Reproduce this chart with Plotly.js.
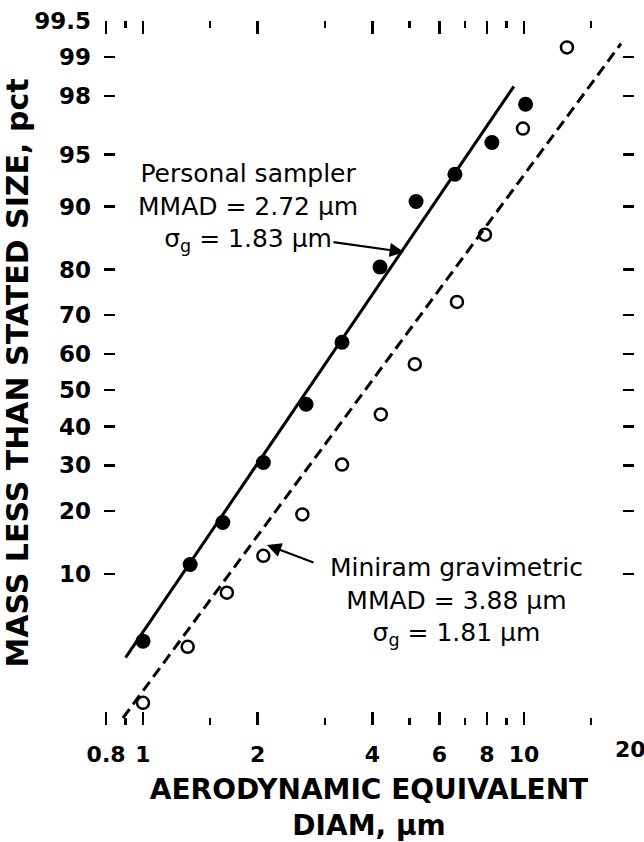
<!DOCTYPE html>
<html><head><meta charset="utf-8">
<script src="https://cdn.plot.ly/plotly-3.0.1.min.js"></script>
<style>html,body{margin:0;padding:0;background:#fff}#chart{width:644px;height:842px}</style>
</head><body><div id="chart"></div>
<script>
// ---- data ----
const personalDiam = [1.00, 1.33, 1.62, 2.07, 2.68, 3.33, 4.19, 5.21, 6.59, 8.24, 10.1];
const personalPct  = [4.0, 11.2, 17.8, 30.7, 46.1, 63.1, 80.5, 90.6, 93.4, 95.8, 97.7];
const miniramDiam  = [1.00, 1.31, 1.66, 2.07, 2.62, 3.33, 4.21, 5.17, 6.67, 7.90, 9.94, 12.97];
const miniramPct   = [1.46, 3.67, 7.89, 12.4, 19.3, 30.2, 43.3, 57.2, 73.1, 86.1, 96.6, 99.16];
// fitted lines (end points)
const personalFitDiam = [0.90, 9.41];
const personalFitPct  = [3.1, 98.3];
const miniramFitDiam  = [0.886, 17.98];
const miniramFitPct   = [1.11, 99.22];
// tick labels
const yTickPct   = [99.5, 99, 98, 95, 90, 80, 70, 60, 50, 40, 30, 20, 10];
const yTickText  = ['99.5','99','98','95','90','80','70','60','50','40','30','20','10'];
const xTickVals  = [0.8, 1, 2, 4, 6, 8, 10];
const xTickText  = ['0.8','1','2','4','6','8','10'];
const xMinorVals = [0.9, 1.5, 3, 5, 7, 9, 15];

// probability (probit) scale
function probit(pct){
  const p = pct/100;
  const a=[-3.969683028665376e+01,2.209460984245205e+02,-2.759285104469687e+02,1.383577518672690e+02,-3.066479806614716e+01,2.506628277459239e+00];
  const b=[-5.447609879822406e+01,1.615858368580409e+02,-1.556989798598866e+02,6.680131188771972e+01,-1.328068155288572e+01];
  const c=[-7.784894002430293e-03,-3.223964580411365e-01,-2.400758277161838e+00,-2.549671348283410e+00,4.374664141464968e+00,2.938163982698783e+00];
  const d=[7.784695709041462e-03,3.224671290700398e-01,2.445134137142996e+00,3.754408661907416e+00];
  const pl=0.02425, ph=1-pl;
  let q,r;
  if(p<pl){ q=Math.sqrt(-2*Math.log(p));
    return (((((c[0]*q+c[1])*q+c[2])*q+c[3])*q+c[4])*q+c[5])/((((d[0]*q+d[1])*q+d[2])*q+d[3])*q+1); }
  if(p<=ph){ q=p-0.5; r=q*q;
    return (((((a[0]*r+a[1])*r+a[2])*r+a[3])*r+a[4])*r+a[5])*q/(((((b[0]*r+b[1])*r+b[2])*r+b[3])*r+b[4])*r+1); }
  q=Math.sqrt(-2*Math.log(1-p));
  return -(((((c[0]*q+c[1])*q+c[2])*q+c[3])*q+c[4])*q+c[5])/((((d[0]*q+d[1])*q+d[2])*q+d[3])*q+1);
}

const FONT = 'DejaVu Sans, sans-serif';

const traces = [
  {x: personalFitDiam, y: personalFitPct.map(probit), mode:'lines', line:{color:'#000', width:3}, cliponaxis:false, hoverinfo:'skip'},
  {x: miniramFitDiam, y: miniramFitPct.map(probit), mode:'lines', line:{color:'#000', width:3, dash:'11px,6px'}, cliponaxis:false, hoverinfo:'skip'},
  {x: personalDiam, y: personalPct.map(probit), mode:'markers', name:'Personal sampler',
   marker:{symbol:'circle', size:15, color:'#000', line:{color:'#000', width:0}}, cliponaxis:false},
  {x: miniramDiam, y: miniramPct.map(probit), mode:'markers', name:'Miniram gravimetric',
   marker:{symbol:'circle-open', size:12, color:'#000', line:{color:'#000', width:2.5}}, cliponaxis:false}
];

const txt = (s, x, y, size) => ({text:s, xref:'paper', yref:'paper', x:x, y:y, showarrow:false, align:'center',
  xanchor:'center', yanchor:'middle', font:{family:FONT, size:size||25, color:'#000'}});

const layout = {
  width:644, height:842,
  margin:{l:104, r:10, t:21, b:117},
  paper_bgcolor:'#fff', plot_bgcolor:'#fff',
  showlegend:false,
  xaxis:{type:'log', range:[Math.log10(0.79), Math.log10(19.45)],
    tickmode:'array', tickvals:xTickVals, ticktext:xTickText,
    ticks:'inside', ticklen:13, tickwidth:2.5, tickcolor:'#000',
    minor:{tickmode:'array', tickvals:xMinorVals, ticks:'inside', ticklen:7, tickwidth:2.5, tickcolor:'#000', showgrid:false},
    mirror:'ticks', showline:false, showgrid:false, zeroline:false,
    ticklabelstandoff:14,
    tickfont:{family:FONT, weight:'bold', size:22, color:'#000'},
    title:{text:'AERODYNAMIC EQUIVALENT<br>DIAM, μm', standoff:14, font:{family:FONT, weight:'bold', size:28, color:'#000'}}
  },
  yaxis:{range:[probit(0.975), probit(99.5)],
    tickmode:'array', tickvals:yTickPct.map(probit), ticktext:yTickText,
    ticks:'inside', ticklen:11, tickwidth:2.5, tickcolor:'#000',
    mirror:'ticks', showline:false, showgrid:false, zeroline:false,
    ticklabelstandoff:12,
    tickfont:{family:FONT, weight:'bold', size:23, color:'#000'},
    title:{text:'MASS LESS THAN STATED SIZE, pct', standoff:4, font:{family:FONT, weight:'bold', size:30, color:'#000'}}
  },
  annotations:[
    txt('Personal sampler<br>MMAD = 2.72 μm<br>σ<sub>g</sub> = 1.83 μm', 0.2717, 0.7344, 25),
    txt('Miniram gravimetric<br>MMAD = 3.88 μm<br>σ<sub>g</sub> = 1.81 μm', 0.666, 0.1760, 25),
    {text:'', xref:'paper', yref:'paper', x:0.566, y:0.6719, ax:-72, ay:-10, showarrow:true,
     arrowhead:2, arrowsize:1.3, arrowwidth:2.2, arrowcolor:'#000'},
    {text:'', xref:'paper', yref:'paper', x:0.3075, y:0.2557, ax:48, ay:18, showarrow:true,
     arrowhead:2, arrowsize:1.3, arrowwidth:2.2, arrowcolor:'#000'},
    {text:'20', xref:'paper', yref:'paper', x:0.9925, y:-0.0355, showarrow:false, xanchor:'center', yanchor:'middle',
     font:{family:FONT, weight:'bold', size:22, color:'#000'}}
  ]
};

Plotly.newPlot('chart', traces, layout, {staticPlot:true, displayModeBar:false});
</script></body></html>
